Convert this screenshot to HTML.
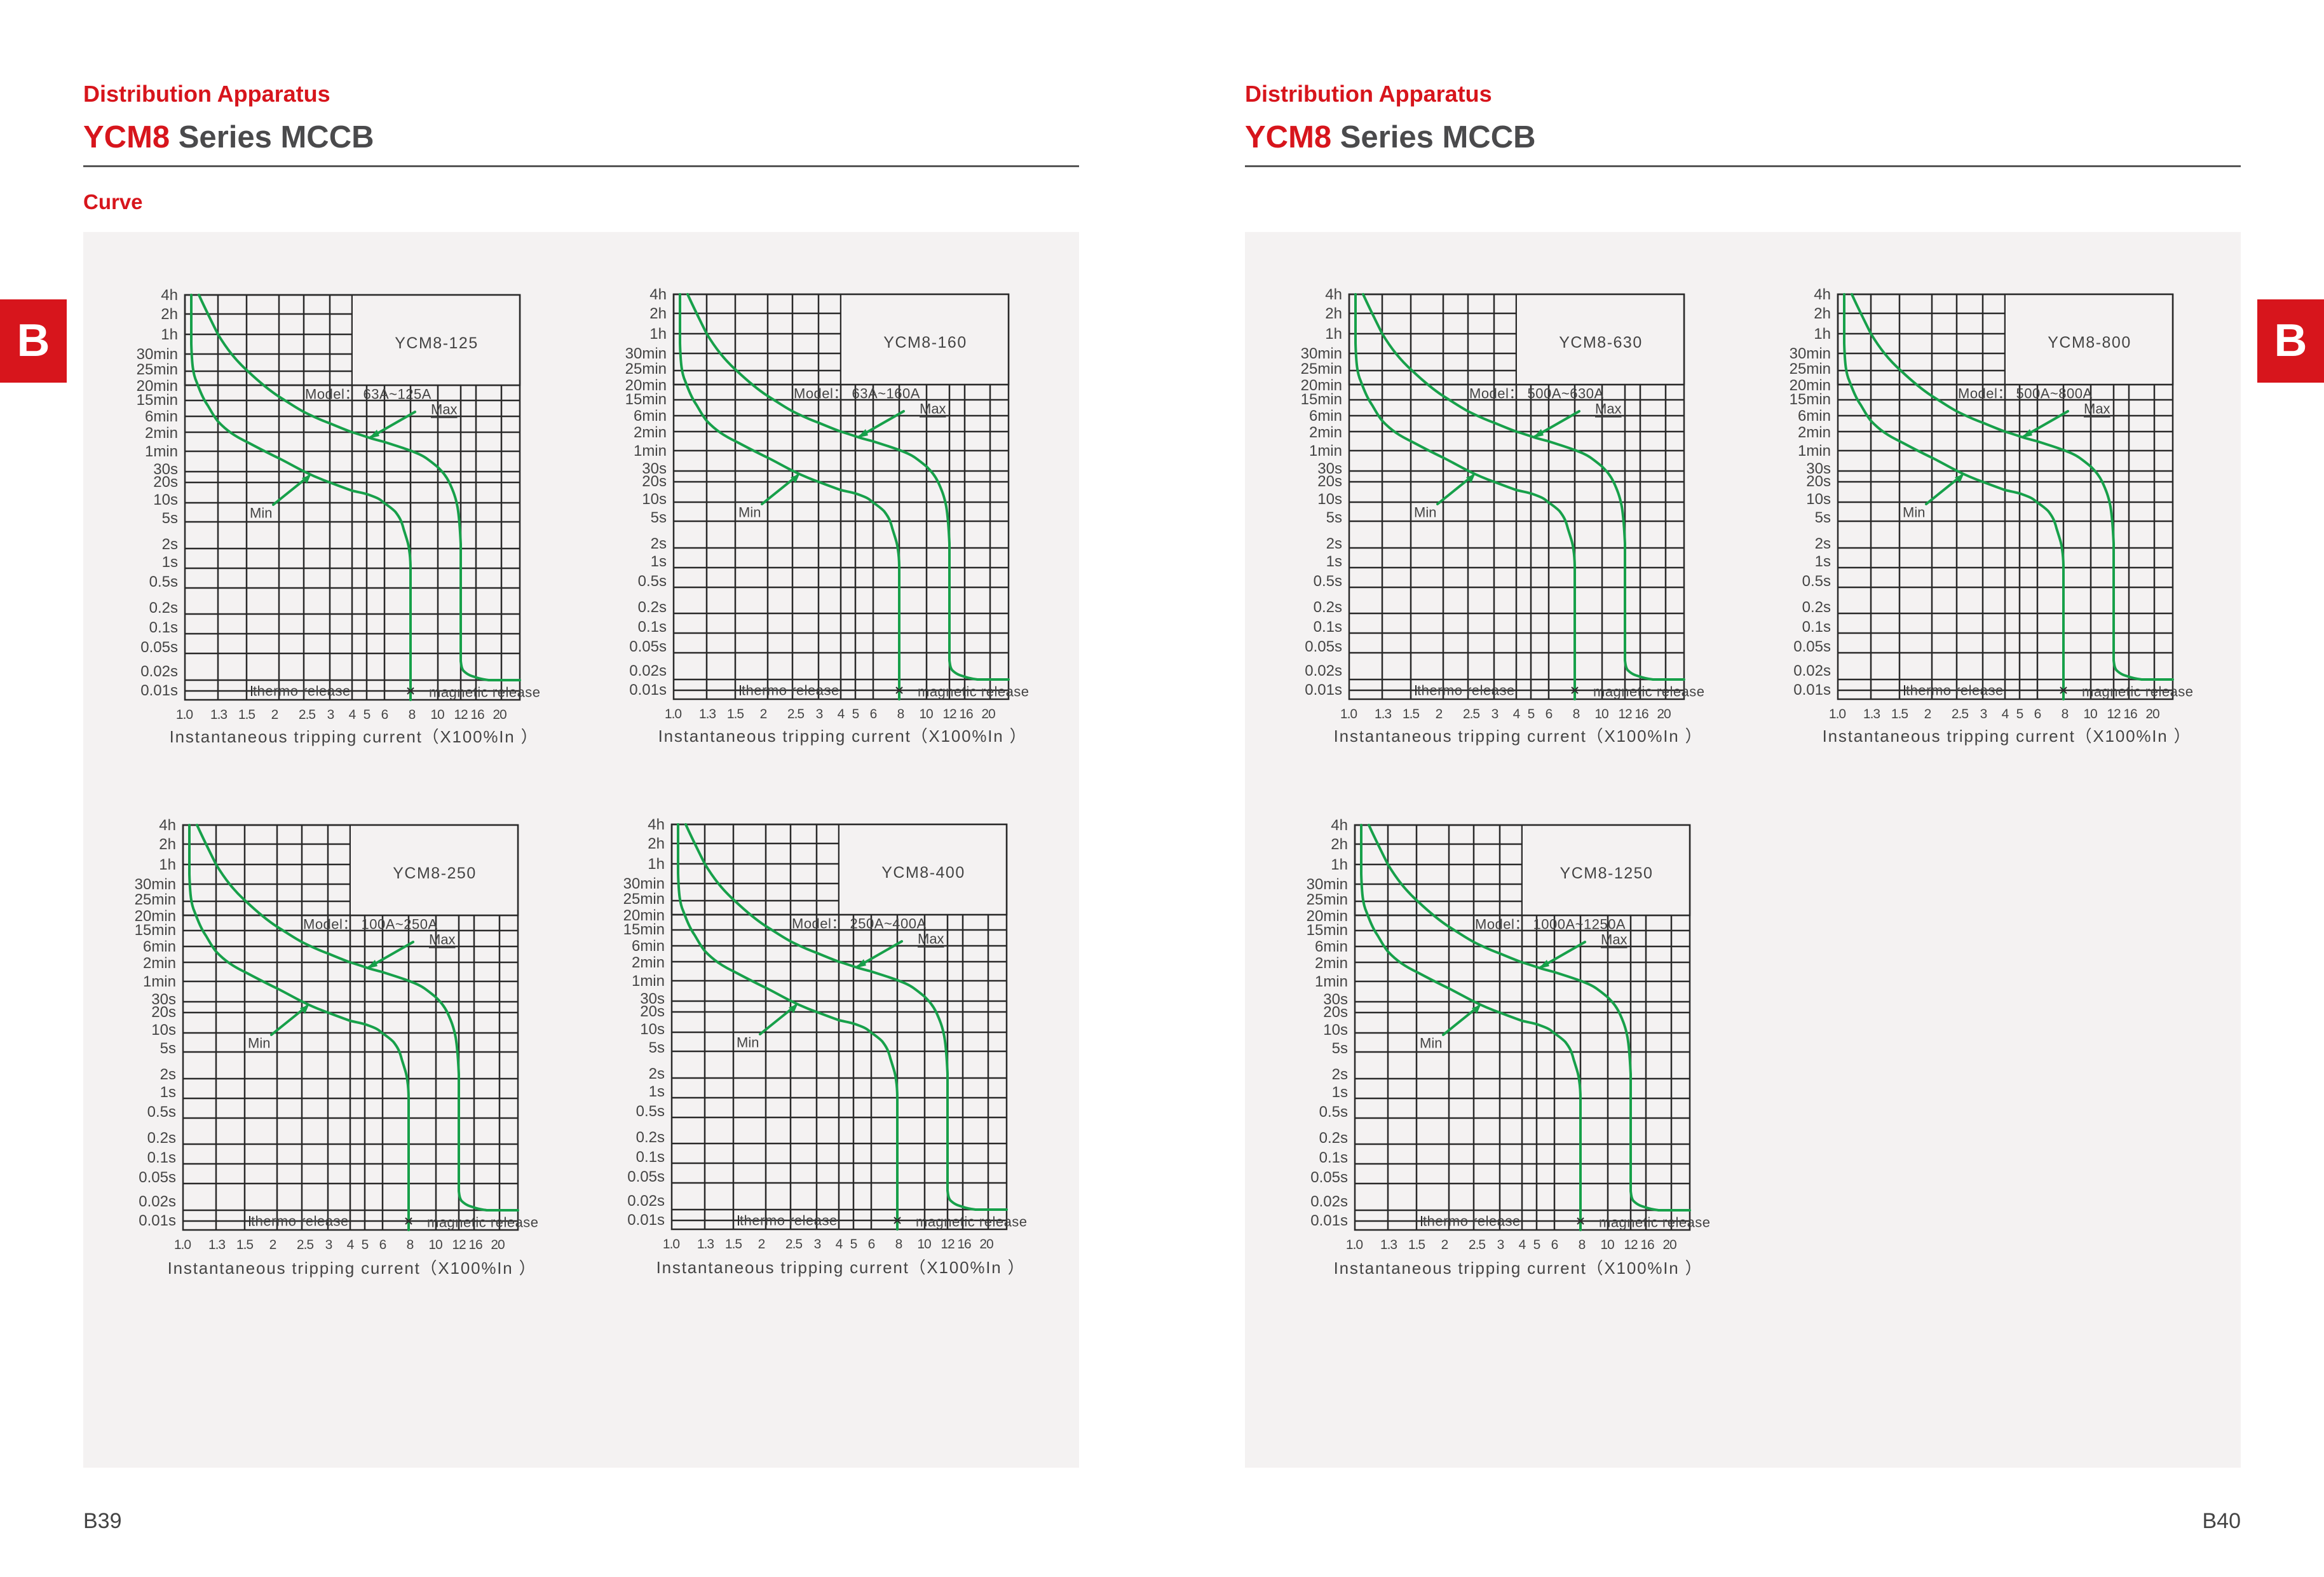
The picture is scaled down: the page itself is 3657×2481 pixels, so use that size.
<!DOCTYPE html>
<html><head><meta charset="utf-8">
<style>
html,body{margin:0;padding:0;background:#fff;}
body{width:3657px;height:2481px;position:relative;overflow:hidden;font-family:"Liberation Sans",Arial,sans-serif;}
.t1{position:absolute;font-weight:bold;color:#d7151c;font-size:36px;line-height:36px;}
.t2{position:absolute;font-weight:bold;color:#4a4a4c;font-size:49px;line-height:49px;}
.t2 span{color:#d7151c;}
.rule{position:absolute;height:3px;background:#555;}
.panel{position:absolute;background:#f4f2f2;}
.tab{position:absolute;width:105px;height:131px;top:471px;background:#d7151c;color:#fff;font-weight:bold;font-size:72px;line-height:131px;text-align:center;}
.pg{position:absolute;top:2376px;font-size:34px;color:#444;line-height:34px;}
svg{position:absolute;left:0;top:0;}
</style></head><body>
<div class="t1" style="left:131px;top:130px;">Distribution Apparatus</div>
<div class="t2" style="left:131px;top:192px;"><span>YCM8</span> Series MCCB</div>
<div class="rule" style="left:131px;width:1567px;top:260px;"></div>
<div class="t1" style="left:131px;top:300px;font-size:33px;">Curve</div>
<div class="panel" style="left:131px;top:365px;width:1567px;height:1944px;"></div>

<div class="t1" style="left:1959px;top:130px;">Distribution Apparatus</div>
<div class="t2" style="left:1959px;top:192px;"><span>YCM8</span> Series MCCB</div>
<div class="rule" style="left:1959px;width:1567px;top:260px;"></div>
<div class="panel" style="left:1959px;top:365px;width:1567px;height:1944px;"></div>

<div class="tab" style="left:0;">B</div>
<div class="tab" style="left:3552px;">B</div>
<div class="pg" style="left:131px;">B39</div>
<div class="pg" style="right:131px;">B40</div>

<svg width="3657" height="2481" viewBox="0 0 3657 2481" xmlns="http://www.w3.org/2000/svg">
<defs>
<g id="grid" fill="none" stroke="#2a2a2a" stroke-width="2.5">
<rect x="0" y="0" width="527" height="637"/>
<path d="M0,30H263M0,62H263M0,93H263M0,120H263M0,142H527M0,166H527M0,191H527M0,216H527M0,246H527M0,278H527M0,295H527M0,327H527M0,357H527M0,399H527M0,430H527M0,461H527M0,502H527M0,533H527M0,564H527M0,606H527M0,623H527"/>
<path d="M52,0V637M97,0V637M148,0V637M187,0V637M228,0V637M263,0V637M286,142V637M314,142V637M355,142V637M398,142V637M434,142V637M458,142V637M498,142V637"/>
</g>
<g id="curves" fill="none" stroke="#17a04a" stroke-width="4" stroke-linejoin="round" stroke-linecap="round">
<path d="M10,0 L10,77 C11,110 13,125 18,136 C24,152 29,164 36,174 C42,184 46,192 52,199 C66,214 80,223 99,232 C116,241 131,249 148,257 C162,264 174,271 188,278 C202,285 214,290 228,295 C241,300 252,304 263,308 C276,311 284,312 291,315 C302,319 307,321 313,327 C322,333 326,336 331,341 C338,350 341,356 344,368 C349,384 352,392 353,402 C355,415 355,424 355,431 L355,637"/>
<path d="M22,0 C32,22 42,42 52,62 C66,85 80,103 99,120 C115,135 131,149 148,160 C161,168 174,177 187,184 C201,191 214,197 228,202 C240,207 252,212 263,216 C273,219 282,222 291,225 C300,228 306,229 313,231 C328,236 342,240 355,245 C365,249 373,252 380,257 C387,262 392,266 398,271 C406,279 411,285 416,295 C422,308 426,318 429,334 C432,352 433,370 434,392 L434,576 C435,585 436,588 438,591 C444,597 449,599 456,601 C464,604 470,605 478,606 L527,606"/>
<path d="M362,184 L292,224 M139,330 L195,285"/>
</g>
<path id="ah1" d="M289,226 L302,212 L306,222 Z" fill="#17a04a"/>
<path id="ah2" d="M198,283 L184,288 L192,297 Z" fill="#17a04a"/>
<g id="marks" stroke="#2a2a2a" stroke-width="2">
<path d="M105,615V631"/>
<path d="M350,618L360,628M360,618L350,628" stroke-width="2"/>
</g>
<g id="chart">
<use href="#grid"/>
<rect x="264" y="1" width="262" height="140" fill="#f4f2f2"/>
<rect x="0" y="0" width="527" height="142" fill="none" stroke="#2a2a2a" stroke-width="2.5"/>
<use href="#curves"/><use href="#ah1"/><use href="#ah2"/><use href="#marks"/>
</g>
</defs>

<g font-family="Liberation Sans, Arial, sans-serif" fill="#444">
<g transform="translate(291,464)">
<use href="#chart"/>
<text font-size="24" text-anchor="end" dominant-baseline="central"><tspan x="-11" y="0">4h</tspan><tspan x="-11" y="30">2h</tspan><tspan x="-11" y="62">1h</tspan><tspan x="-11" y="93">30min</tspan><tspan x="-11" y="117">25min</tspan><tspan x="-11" y="143">20min</tspan><tspan x="-11" y="165">15min</tspan><tspan x="-11" y="191">6min</tspan><tspan x="-11" y="217">2min</tspan><tspan x="-11" y="246">1min</tspan><tspan x="-11" y="274">30s</tspan><tspan x="-11" y="294">20s</tspan><tspan x="-11" y="322">10s</tspan><tspan x="-11" y="351">5s</tspan><tspan x="-11" y="392">2s</tspan><tspan x="-11" y="420">1s</tspan><tspan x="-11" y="451">0.5s</tspan><tspan x="-11" y="492">0.2s</tspan><tspan x="-11" y="523">0.1s</tspan><tspan x="-11" y="554">0.05s</tspan><tspan x="-11" y="592">0.02s</tspan><tspan x="-11" y="622">0.01s</tspan></text>
<text font-size="21" text-anchor="middle" dominant-baseline="central" letter-spacing="-1"><tspan x="-1" y="660">1.0</tspan><tspan x="53" y="660">1.3</tspan><tspan x="97" y="660">1.5</tspan><tspan x="141" y="660">2</tspan><tspan x="192" y="660">2.5</tspan><tspan x="229" y="660">3</tspan><tspan x="263" y="660">4</tspan><tspan x="286" y="660">5</tspan><tspan x="314" y="660">6</tspan><tspan x="357" y="660">8</tspan><tspan x="397" y="660">10</tspan><tspan x="434" y="660">12</tspan><tspan x="460" y="660">16</tspan><tspan x="495" y="660">20</tspan></text>
<text font-size="26" x="266" y="695" text-anchor="middle" dominant-baseline="central" letter-spacing="1.8">Instantaneous tripping current（X100%In ）</text>
<text font-size="25" x="396" y="76" text-anchor="middle" dominant-baseline="central" letter-spacing="1.5">YCM8-125</text>
<text font-size="22" x="189" y="156" dominant-baseline="central" letter-spacing="0.5">Model：  63A~125A</text>
<text font-size="22" x="387" y="180" dominant-baseline="central" text-decoration="underline">Max</text>
<text font-size="22" x="102" y="343" dominant-baseline="central">Min</text>
<text font-size="22" x="107" y="623" dominant-baseline="central" letter-spacing="0.5">thermo release</text>
<text font-size="22" x="384" y="625" dominant-baseline="central" letter-spacing="0.5">magnetic release</text>
</g>

<g transform="translate(1060,463)">
<use href="#chart"/>
<text font-size="24" text-anchor="end" dominant-baseline="central"><tspan x="-11" y="0">4h</tspan><tspan x="-11" y="30">2h</tspan><tspan x="-11" y="62">1h</tspan><tspan x="-11" y="93">30min</tspan><tspan x="-11" y="117">25min</tspan><tspan x="-11" y="143">20min</tspan><tspan x="-11" y="165">15min</tspan><tspan x="-11" y="191">6min</tspan><tspan x="-11" y="217">2min</tspan><tspan x="-11" y="246">1min</tspan><tspan x="-11" y="274">30s</tspan><tspan x="-11" y="294">20s</tspan><tspan x="-11" y="322">10s</tspan><tspan x="-11" y="351">5s</tspan><tspan x="-11" y="392">2s</tspan><tspan x="-11" y="420">1s</tspan><tspan x="-11" y="451">0.5s</tspan><tspan x="-11" y="492">0.2s</tspan><tspan x="-11" y="523">0.1s</tspan><tspan x="-11" y="554">0.05s</tspan><tspan x="-11" y="592">0.02s</tspan><tspan x="-11" y="622">0.01s</tspan></text>
<text font-size="21" text-anchor="middle" dominant-baseline="central" letter-spacing="-1"><tspan x="-1" y="660">1.0</tspan><tspan x="53" y="660">1.3</tspan><tspan x="97" y="660">1.5</tspan><tspan x="141" y="660">2</tspan><tspan x="192" y="660">2.5</tspan><tspan x="229" y="660">3</tspan><tspan x="263" y="660">4</tspan><tspan x="286" y="660">5</tspan><tspan x="314" y="660">6</tspan><tspan x="357" y="660">8</tspan><tspan x="397" y="660">10</tspan><tspan x="434" y="660">12</tspan><tspan x="460" y="660">16</tspan><tspan x="495" y="660">20</tspan></text>
<text font-size="26" x="266" y="695" text-anchor="middle" dominant-baseline="central" letter-spacing="1.8">Instantaneous tripping current（X100%In ）</text>
<text font-size="25" x="396" y="76" text-anchor="middle" dominant-baseline="central" letter-spacing="1.5">YCM8-160</text>
<text font-size="22" x="189" y="156" dominant-baseline="central" letter-spacing="0.5">Model：  63A~160A</text>
<text font-size="22" x="387" y="180" dominant-baseline="central" text-decoration="underline">Max</text>
<text font-size="22" x="102" y="343" dominant-baseline="central">Min</text>
<text font-size="22" x="107" y="623" dominant-baseline="central" letter-spacing="0.5">thermo release</text>
<text font-size="22" x="384" y="625" dominant-baseline="central" letter-spacing="0.5">magnetic release</text>
</g>

<g transform="translate(288,1298)">
<use href="#chart"/>
<text font-size="24" text-anchor="end" dominant-baseline="central"><tspan x="-11" y="0">4h</tspan><tspan x="-11" y="30">2h</tspan><tspan x="-11" y="62">1h</tspan><tspan x="-11" y="93">30min</tspan><tspan x="-11" y="117">25min</tspan><tspan x="-11" y="143">20min</tspan><tspan x="-11" y="165">15min</tspan><tspan x="-11" y="191">6min</tspan><tspan x="-11" y="217">2min</tspan><tspan x="-11" y="246">1min</tspan><tspan x="-11" y="274">30s</tspan><tspan x="-11" y="294">20s</tspan><tspan x="-11" y="322">10s</tspan><tspan x="-11" y="351">5s</tspan><tspan x="-11" y="392">2s</tspan><tspan x="-11" y="420">1s</tspan><tspan x="-11" y="451">0.5s</tspan><tspan x="-11" y="492">0.2s</tspan><tspan x="-11" y="523">0.1s</tspan><tspan x="-11" y="554">0.05s</tspan><tspan x="-11" y="592">0.02s</tspan><tspan x="-11" y="622">0.01s</tspan></text>
<text font-size="21" text-anchor="middle" dominant-baseline="central" letter-spacing="-1"><tspan x="-1" y="660">1.0</tspan><tspan x="53" y="660">1.3</tspan><tspan x="97" y="660">1.5</tspan><tspan x="141" y="660">2</tspan><tspan x="192" y="660">2.5</tspan><tspan x="229" y="660">3</tspan><tspan x="263" y="660">4</tspan><tspan x="286" y="660">5</tspan><tspan x="314" y="660">6</tspan><tspan x="357" y="660">8</tspan><tspan x="397" y="660">10</tspan><tspan x="434" y="660">12</tspan><tspan x="460" y="660">16</tspan><tspan x="495" y="660">20</tspan></text>
<text font-size="26" x="266" y="697" text-anchor="middle" dominant-baseline="central" letter-spacing="1.8">Instantaneous tripping current（X100%In ）</text>
<text font-size="25" x="396" y="76" text-anchor="middle" dominant-baseline="central" letter-spacing="1.5">YCM8-250</text>
<text font-size="22" x="189" y="156" dominant-baseline="central" letter-spacing="0.5">Model：  100A~250A</text>
<text font-size="22" x="387" y="180" dominant-baseline="central" text-decoration="underline">Max</text>
<text font-size="22" x="102" y="343" dominant-baseline="central">Min</text>
<text font-size="22" x="107" y="623" dominant-baseline="central" letter-spacing="0.5">thermo release</text>
<text font-size="22" x="384" y="625" dominant-baseline="central" letter-spacing="0.5">magnetic release</text>
</g>

<g transform="translate(1057,1297)">
<use href="#chart"/>
<text font-size="24" text-anchor="end" dominant-baseline="central"><tspan x="-11" y="0">4h</tspan><tspan x="-11" y="30">2h</tspan><tspan x="-11" y="62">1h</tspan><tspan x="-11" y="93">30min</tspan><tspan x="-11" y="117">25min</tspan><tspan x="-11" y="143">20min</tspan><tspan x="-11" y="165">15min</tspan><tspan x="-11" y="191">6min</tspan><tspan x="-11" y="217">2min</tspan><tspan x="-11" y="246">1min</tspan><tspan x="-11" y="274">30s</tspan><tspan x="-11" y="294">20s</tspan><tspan x="-11" y="322">10s</tspan><tspan x="-11" y="351">5s</tspan><tspan x="-11" y="392">2s</tspan><tspan x="-11" y="420">1s</tspan><tspan x="-11" y="451">0.5s</tspan><tspan x="-11" y="492">0.2s</tspan><tspan x="-11" y="523">0.1s</tspan><tspan x="-11" y="554">0.05s</tspan><tspan x="-11" y="592">0.02s</tspan><tspan x="-11" y="622">0.01s</tspan></text>
<text font-size="21" text-anchor="middle" dominant-baseline="central" letter-spacing="-1"><tspan x="-1" y="660">1.0</tspan><tspan x="53" y="660">1.3</tspan><tspan x="97" y="660">1.5</tspan><tspan x="141" y="660">2</tspan><tspan x="192" y="660">2.5</tspan><tspan x="229" y="660">3</tspan><tspan x="263" y="660">4</tspan><tspan x="286" y="660">5</tspan><tspan x="314" y="660">6</tspan><tspan x="357" y="660">8</tspan><tspan x="397" y="660">10</tspan><tspan x="434" y="660">12</tspan><tspan x="460" y="660">16</tspan><tspan x="495" y="660">20</tspan></text>
<text font-size="26" x="266" y="697" text-anchor="middle" dominant-baseline="central" letter-spacing="1.8">Instantaneous tripping current（X100%In ）</text>
<text font-size="25" x="396" y="76" text-anchor="middle" dominant-baseline="central" letter-spacing="1.5">YCM8-400</text>
<text font-size="22" x="189" y="156" dominant-baseline="central" letter-spacing="0.5">Model：  250A~400A</text>
<text font-size="22" x="387" y="180" dominant-baseline="central" text-decoration="underline">Max</text>
<text font-size="22" x="102" y="343" dominant-baseline="central">Min</text>
<text font-size="22" x="107" y="623" dominant-baseline="central" letter-spacing="0.5">thermo release</text>
<text font-size="22" x="384" y="625" dominant-baseline="central" letter-spacing="0.5">magnetic release</text>
</g>

<g transform="translate(2123,463)">
<use href="#chart"/>
<text font-size="24" text-anchor="end" dominant-baseline="central"><tspan x="-11" y="0">4h</tspan><tspan x="-11" y="30">2h</tspan><tspan x="-11" y="62">1h</tspan><tspan x="-11" y="93">30min</tspan><tspan x="-11" y="117">25min</tspan><tspan x="-11" y="143">20min</tspan><tspan x="-11" y="165">15min</tspan><tspan x="-11" y="191">6min</tspan><tspan x="-11" y="217">2min</tspan><tspan x="-11" y="246">1min</tspan><tspan x="-11" y="274">30s</tspan><tspan x="-11" y="294">20s</tspan><tspan x="-11" y="322">10s</tspan><tspan x="-11" y="351">5s</tspan><tspan x="-11" y="392">2s</tspan><tspan x="-11" y="420">1s</tspan><tspan x="-11" y="451">0.5s</tspan><tspan x="-11" y="492">0.2s</tspan><tspan x="-11" y="523">0.1s</tspan><tspan x="-11" y="554">0.05s</tspan><tspan x="-11" y="592">0.02s</tspan><tspan x="-11" y="622">0.01s</tspan></text>
<text font-size="21" text-anchor="middle" dominant-baseline="central" letter-spacing="-1"><tspan x="-1" y="660">1.0</tspan><tspan x="53" y="660">1.3</tspan><tspan x="97" y="660">1.5</tspan><tspan x="141" y="660">2</tspan><tspan x="192" y="660">2.5</tspan><tspan x="229" y="660">3</tspan><tspan x="263" y="660">4</tspan><tspan x="286" y="660">5</tspan><tspan x="314" y="660">6</tspan><tspan x="357" y="660">8</tspan><tspan x="397" y="660">10</tspan><tspan x="434" y="660">12</tspan><tspan x="460" y="660">16</tspan><tspan x="495" y="660">20</tspan></text>
<text font-size="26" x="266" y="695" text-anchor="middle" dominant-baseline="central" letter-spacing="1.8">Instantaneous tripping current（X100%In ）</text>
<text font-size="25" x="396" y="76" text-anchor="middle" dominant-baseline="central" letter-spacing="1.5">YCM8-630</text>
<text font-size="22" x="189" y="156" dominant-baseline="central" letter-spacing="0.5">Model：  500A~630A</text>
<text font-size="22" x="387" y="180" dominant-baseline="central" text-decoration="underline">Max</text>
<text font-size="22" x="102" y="343" dominant-baseline="central">Min</text>
<text font-size="22" x="107" y="623" dominant-baseline="central" letter-spacing="0.5">thermo release</text>
<text font-size="22" x="384" y="625" dominant-baseline="central" letter-spacing="0.5">magnetic release</text>
</g>

<g transform="translate(2892,463)">
<use href="#chart"/>
<text font-size="24" text-anchor="end" dominant-baseline="central"><tspan x="-11" y="0">4h</tspan><tspan x="-11" y="30">2h</tspan><tspan x="-11" y="62">1h</tspan><tspan x="-11" y="93">30min</tspan><tspan x="-11" y="117">25min</tspan><tspan x="-11" y="143">20min</tspan><tspan x="-11" y="165">15min</tspan><tspan x="-11" y="191">6min</tspan><tspan x="-11" y="217">2min</tspan><tspan x="-11" y="246">1min</tspan><tspan x="-11" y="274">30s</tspan><tspan x="-11" y="294">20s</tspan><tspan x="-11" y="322">10s</tspan><tspan x="-11" y="351">5s</tspan><tspan x="-11" y="392">2s</tspan><tspan x="-11" y="420">1s</tspan><tspan x="-11" y="451">0.5s</tspan><tspan x="-11" y="492">0.2s</tspan><tspan x="-11" y="523">0.1s</tspan><tspan x="-11" y="554">0.05s</tspan><tspan x="-11" y="592">0.02s</tspan><tspan x="-11" y="622">0.01s</tspan></text>
<text font-size="21" text-anchor="middle" dominant-baseline="central" letter-spacing="-1"><tspan x="-1" y="660">1.0</tspan><tspan x="53" y="660">1.3</tspan><tspan x="97" y="660">1.5</tspan><tspan x="141" y="660">2</tspan><tspan x="192" y="660">2.5</tspan><tspan x="229" y="660">3</tspan><tspan x="263" y="660">4</tspan><tspan x="286" y="660">5</tspan><tspan x="314" y="660">6</tspan><tspan x="357" y="660">8</tspan><tspan x="397" y="660">10</tspan><tspan x="434" y="660">12</tspan><tspan x="460" y="660">16</tspan><tspan x="495" y="660">20</tspan></text>
<text font-size="26" x="266" y="695" text-anchor="middle" dominant-baseline="central" letter-spacing="1.8">Instantaneous tripping current（X100%In ）</text>
<text font-size="25" x="396" y="76" text-anchor="middle" dominant-baseline="central" letter-spacing="1.5">YCM8-800</text>
<text font-size="22" x="189" y="156" dominant-baseline="central" letter-spacing="0.5">Model：  500A~800A</text>
<text font-size="22" x="387" y="180" dominant-baseline="central" text-decoration="underline">Max</text>
<text font-size="22" x="102" y="343" dominant-baseline="central">Min</text>
<text font-size="22" x="107" y="623" dominant-baseline="central" letter-spacing="0.5">thermo release</text>
<text font-size="22" x="384" y="625" dominant-baseline="central" letter-spacing="0.5">magnetic release</text>
</g>

<g transform="translate(2132,1298)">
<use href="#chart"/>
<text font-size="24" text-anchor="end" dominant-baseline="central"><tspan x="-11" y="0">4h</tspan><tspan x="-11" y="30">2h</tspan><tspan x="-11" y="62">1h</tspan><tspan x="-11" y="93">30min</tspan><tspan x="-11" y="117">25min</tspan><tspan x="-11" y="143">20min</tspan><tspan x="-11" y="165">15min</tspan><tspan x="-11" y="191">6min</tspan><tspan x="-11" y="217">2min</tspan><tspan x="-11" y="246">1min</tspan><tspan x="-11" y="274">30s</tspan><tspan x="-11" y="294">20s</tspan><tspan x="-11" y="322">10s</tspan><tspan x="-11" y="351">5s</tspan><tspan x="-11" y="392">2s</tspan><tspan x="-11" y="420">1s</tspan><tspan x="-11" y="451">0.5s</tspan><tspan x="-11" y="492">0.2s</tspan><tspan x="-11" y="523">0.1s</tspan><tspan x="-11" y="554">0.05s</tspan><tspan x="-11" y="592">0.02s</tspan><tspan x="-11" y="622">0.01s</tspan></text>
<text font-size="21" text-anchor="middle" dominant-baseline="central" letter-spacing="-1"><tspan x="-1" y="660">1.0</tspan><tspan x="53" y="660">1.3</tspan><tspan x="97" y="660">1.5</tspan><tspan x="141" y="660">2</tspan><tspan x="192" y="660">2.5</tspan><tspan x="229" y="660">3</tspan><tspan x="263" y="660">4</tspan><tspan x="286" y="660">5</tspan><tspan x="314" y="660">6</tspan><tspan x="357" y="660">8</tspan><tspan x="397" y="660">10</tspan><tspan x="434" y="660">12</tspan><tspan x="460" y="660">16</tspan><tspan x="495" y="660">20</tspan></text>
<text font-size="26" x="257" y="697" text-anchor="middle" dominant-baseline="central" letter-spacing="1.8">Instantaneous tripping current（X100%In ）</text>
<text font-size="25" x="396" y="76" text-anchor="middle" dominant-baseline="central" letter-spacing="1.5">YCM8-1250</text>
<text font-size="22" x="189" y="156" dominant-baseline="central" letter-spacing="0.5">Model：  1000A~1250A</text>
<text font-size="22" x="387" y="180" dominant-baseline="central" text-decoration="underline">Max</text>
<text font-size="22" x="102" y="343" dominant-baseline="central">Min</text>
<text font-size="22" x="107" y="623" dominant-baseline="central" letter-spacing="0.5">thermo release</text>
<text font-size="22" x="384" y="625" dominant-baseline="central" letter-spacing="0.5">magnetic release</text>
</g>
</g>
</svg>
</body></html>
